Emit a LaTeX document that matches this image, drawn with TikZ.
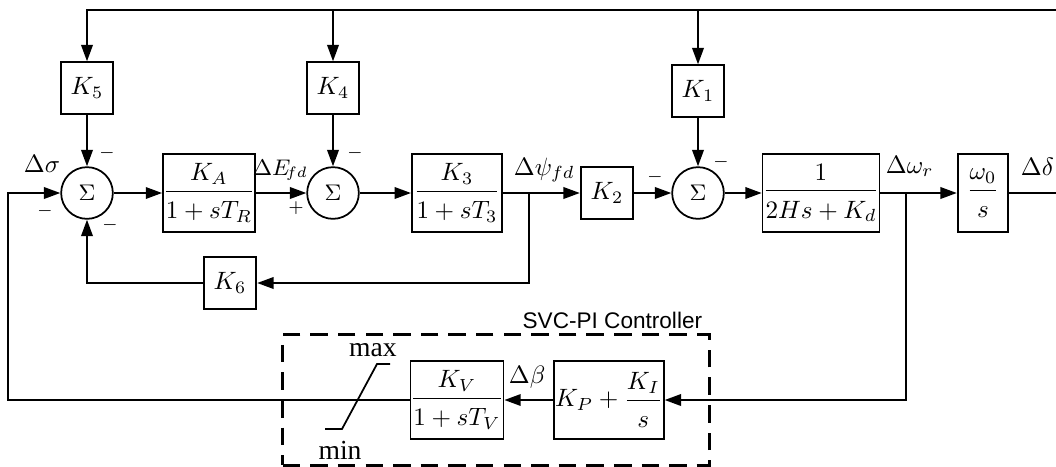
\documentclass[tikz,border=0pt]{standalone}
\usepackage{amsmath}
\usepackage{fontspec}
\setmainfont{Liberation Serif}
\newfontfamily\ctrlfont{Liberation Sans}
\usetikzlibrary{arrows.meta,positioning}
\newcommand{\blockfrac}[2]{\dfrac{#1\rule[-2.5pt]{0pt}{2.5pt}}{\rule{0pt}{9.5pt}#2}}

\begin{document}
\begin{tikzpicture}[
  x=0.014cm, y=-0.014cm,
  line width=0.7pt,
  every node/.style={inner sep=0pt},
  block/.style={draw, minimum width=21pt, minimum height=20.6pt},
  tfblock/.style={draw, minimum width=#1, minimum height=31pt},
  sumnode/.style={draw, circle, minimum size=20.6pt, font=\small},
  ctrlbox/.style={draw, dash pattern=on 7pt off 4pt, line width=1.1pt, minimum width=170pt, minimum height=52pt},
  sgn/.style={font=\scriptsize},
  sig/.style={anchor=base west},
  arr/.style={-{Triangle[length=6.5pt,width=4.6pt]}}
]
\useasboundingbox (0,0) rectangle (1056,466);

% forward path
\node[sumnode] (sum1) at (87,193) {$\Sigma$};
\node[tfblock=36.5pt] (ka) at (209,193) {$\blockfrac{K_A}{1+sT_R}$};
\node[sumnode] (sum2) at (333,193) {$\Sigma$};
\node[tfblock=36pt] (k3) at (457,193) {$\blockfrac{K_3}{1+sT_3}$};
\node[block] (k2) at (607,193) {$K_2$};
\node[sumnode] (sum3) at (698,193) {$\Sigma$};
\node[tfblock=46pt] (gen) at (821,193) {$\blockfrac{1}{2Hs+K_d}$};
\node[tfblock=20.2pt] (w0) at (983,193) {$\blockfrac{\omega_0}{s}$};

% gains from delta
\node[block] (k5) at (87,88) {$K_5$};
\node[block] (k4) at (333,88) {$K_4$};
\node[block] (k1) at (698,91) {$K_1$};
\node[block] (k6) at (230,283) {$K_6$};

% svc controller
\node[ctrlbox] (svc) at (496,400) {};
\node[anchor=base east, font=\ctrlfont\fontsize{9}{11}\selectfont] (svclbl) at (703,328) {SVC-PI Controller};
\node[tfblock=35.7pt] (kv) at (457,400) {$\blockfrac{K_V}{1+sT_V}$};
\node[tfblock=43.7pt] (pi) at (609,400) {$K_P+\blockfrac{K_I}{s}$};
\draw (325,429) -- (342,429) -- (377,364) -- (390,364);
\node[font=\fontsize{11}{13}\selectfont] (max) at (373,350) {max};
\node[font=\fontsize{11}{13}\selectfont] (min) at (340,450) {min};

% signal names
\node[sig] (dsigma) at (23,172) {$\Delta\sigma$};
\node[sig, font=\small] (defd) at (252,175) {$\Delta E_{\!fd}$};
\node[sig] (dpsi) at (513,175) {$\Delta\psi_{fd}$};
\node[sig] (dwr) at (885,173) {$\Delta\omega_r$};
\node[sig] (ddelta) at (1020,175) {$\Delta\delta$};
\node[sig] (dbeta) at (508,383) {$\Delta\beta$};

% signs
\node[sgn] (s1) at (107,153) {$-$};
\node[sgn] (s2) at (45,211) {$-$};
\node[sgn] (s3) at (110,225) {$-$};
\node[sgn] (s4) at (296,208) {$+$};
\node[sgn] (s5) at (355,153) {$-$};
\node[sgn] (s6) at (655,177) {$-$};
\node[sgn] (s7) at (721,162) {$-$};

% connectors
\coordinate (topr) at (1056,10);
\coordinate (ddend) at (1056,193);
\coordinate (psib) at (529,193);
\coordinate (wrb) at (906,193);
\coordinate (fbl) at (8,300);
\draw[arr] (topr) -| (k5);
\draw[arr] (k4 |- topr) -- (k4);
\draw[arr] (k1 |- topr) -- (k1);
\draw[arr] (k5) -- (sum1);
\draw[arr] (k4) -- (sum2);
\draw[arr] (k1) -- (sum3);
\draw[arr] (sum1) -- (ka);
\draw[arr] (ka) -- (sum2);
\draw[arr] (sum2) -- (k3);
\draw[arr] (k3) -- (k2);
\draw[arr] (k2) -- (sum3);
\draw[arr] (sum3) -- (gen);
\draw[arr] (gen) -- (w0);
\draw (w0) -- (ddend);
\draw[arr] (psib) |- (k6);
\draw[arr] (k6) -| (sum1);
\draw[arr] (wrb) |- (pi);
\draw[arr] (pi) -- (kv);
\draw[arr] (kv) -| (fbl) |- (sum1);
\end{tikzpicture}
\end{document}
